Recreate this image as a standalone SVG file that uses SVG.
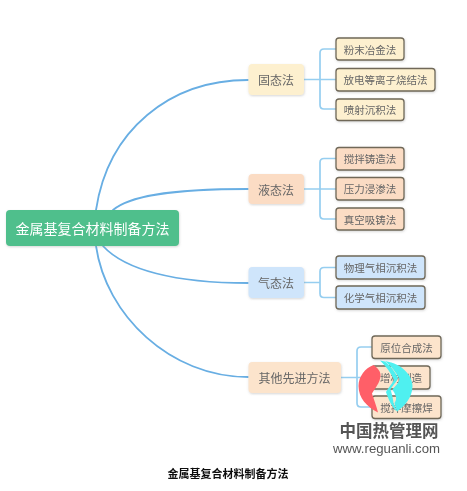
<svg xmlns="http://www.w3.org/2000/svg" width="467" height="491" viewBox="0 0 467 491">
<defs>
<filter id="soft" x="-5%" y="-5%" width="110%" height="110%"><feGaussianBlur stdDeviation="0.45"/></filter>
<filter id="shadow" x="-10%" y="-20%" width="120%" height="150%"><feDropShadow dx="0.5" dy="1" stdDeviation="1" flood-color="#888" flood-opacity="0.35"/></filter>
</defs>
<style>
text{font-family:"Noto Sans CJK SC","Liberation Sans",sans-serif;text-anchor:middle;dominant-baseline:central}
.edge{fill:none;stroke:#68aee3;stroke-width:1.8;stroke-linecap:round}
.br{fill:none;stroke:#96cef0;stroke-width:1.7}
.main{filter:url(#shadow)}
.leaf{stroke:#6f6858;stroke-width:1.3;filter:url(#shadow)}
.t1{font-size:12px;fill:#666}
.t2{font-size:10.5px;fill:#666}
.y{fill:#fdf0cf}.o{fill:#fbdcc4}.b{fill:#cfe5fb}.p{fill:#fce4cc}
</style>
<rect width="467" height="491" fill="#fff"/>
<g filter="url(#soft)">
<g id="connectors">
<path class="edge" d="M96 210C108 130 170 80 248 80"/>
<path class="edge" d="M113 210C128 197 165 189 248 189"/>
<path class="edge" d="M103 246C125 270 175 283 248 283"/>
<path class="edge" d="M96 246C106 315 170 377 248 377"/>
<path class="br" d="M304 79.500H320M320 79.500V53Q320 49 324 49H336M320 79.500H336M320 79.500V105Q320 109 324 109H336"/>
<path class="br" d="M304 189H320M320 189V162.500Q320 158.500 324 158.500H336M320 189H336M320 189V215Q320 219 324 219H336"/>
<path class="br" d="M304 282.500H320M320 282.500V271.500Q320 267.500 324 267.500H336M320 282.500V293.500Q320 297.500 324 297.500H336"/>
<path class="br" d="M341 377.500H357M357 377.500V351Q357 347 361 347H372M357 377.500H372M357 377.500V403Q357 407 361 407H372"/>
</g>
<g id="root"><rect x="6" y="210" width="173" height="36" rx="4" fill="#50bf8c" class="main"/><text x="92.500" y="228" font-size="14" fill="#fff">金属基复合材料制备方法</text></g>
<g id="solid"><rect class="main y" x="248.500" y="64" width="55.500" height="31" rx="4"/><text class="t1" x="276" y="79.500">固态法</text></g>
<g id="liquid"><rect class="main o" x="248.500" y="174" width="55.500" height="30" rx="4"/><text class="t1" x="276" y="189">液态法</text></g>
<g id="gas"><rect class="main b" x="248.500" y="267" width="55.500" height="31" rx="4"/><text class="t1" x="276" y="282.500">气态法</text></g>
<g id="other"><rect class="main p" x="248.500" y="362" width="92.500" height="31" rx="4"/><text class="t1" x="294.500" y="377.500">其他先进方法</text></g>
<g id="n1"><rect class="leaf y" x="336" y="38" width="68" height="22" rx="3"/><text class="t2" x="370" y="49">粉末冶金法</text></g>
<g id="n2"><rect class="leaf y" x="336" y="68.500" width="99" height="22.500" rx="3"/><text class="t2" x="385.500" y="79.500">放电等离子烧结法</text></g>
<g id="n3"><rect class="leaf y" x="336" y="99" width="68" height="21.500" rx="3"/><text class="t2" x="370" y="109.500">喷射沉积法</text></g>
<g id="n4"><rect class="leaf o" x="336" y="147.500" width="68" height="22.500" rx="3"/><text class="t2" x="370" y="158.500">搅拌铸造法</text></g>
<g id="n5"><rect class="leaf o" x="336" y="177.500" width="68" height="22.500" rx="3"/><text class="t2" x="370" y="188.500">压力浸渗法</text></g>
<g id="n6"><rect class="leaf o" x="336" y="208" width="68" height="22" rx="3"/><text class="t2" x="370" y="219">真空吸铸法</text></g>
<g id="n7"><rect class="leaf b" x="336" y="256" width="89" height="23" rx="3"/><text class="t2" x="380.500" y="267.500">物理气相沉积法</text></g>
<g id="n8"><rect class="leaf b" x="336" y="286" width="89" height="23" rx="3"/><text class="t2" x="380.500" y="297.500">化学气相沉积法</text></g>
<g id="n9"><rect class="leaf p" x="372" y="336" width="69" height="22.500" rx="3"/><text class="t2" x="406.500" y="347">原位合成法</text></g>
<g id="n10"><rect class="leaf p" x="372" y="366" width="58" height="23" rx="3"/><text class="t2" x="401" y="377.500">增材制造</text></g>
<g id="n11"><rect class="leaf p" x="372" y="396" width="69" height="22.500" rx="3"/><text class="t2" x="406.500" y="407">搅拌摩擦焊</text></g>
<path d="M373.500 365C378 368 381 372 380.500 376C380 383 375 388 372 393.500C374 400 376.500 406 378 412.500C367 407 358.500 398 358.500 386C358.500 377 365 368 373.500 365Z" fill="#ff5f68"/>
<path d="M385 361C403 364 412.500 376 412.500 386C412.500 397 405 406 397 411.500C396 408 395 405 394.500 403C398 398 395 394 392.500 389.500C395 386 399 383 399.500 379C396 372 391 366 385 361Z" fill="#4ff0f0"/>
<path d="M380 360.500L385 361.500C391 366 395 372 398 378C396 383 392 386 390.500 389.500C392 394 393 399 393.500 403L397 411.500C392 408 388 398 386 392C388 388 392 384 394 380C391 373 386 366 380 360.500Z" fill="#4ff0f0"/>
<text x="389" y="430" font-size="16.500" font-weight="700" fill="#555">中国热管理网</text>
<text x="386.500" y="448" font-size="13.200" fill="#555" style="font-family:'Liberation Sans',sans-serif">www.reguanli.com</text>
<text x="228" y="473" font-size="11" font-weight="700" fill="#111">金属基复合材料制备方法</text>
</g>
</svg>
